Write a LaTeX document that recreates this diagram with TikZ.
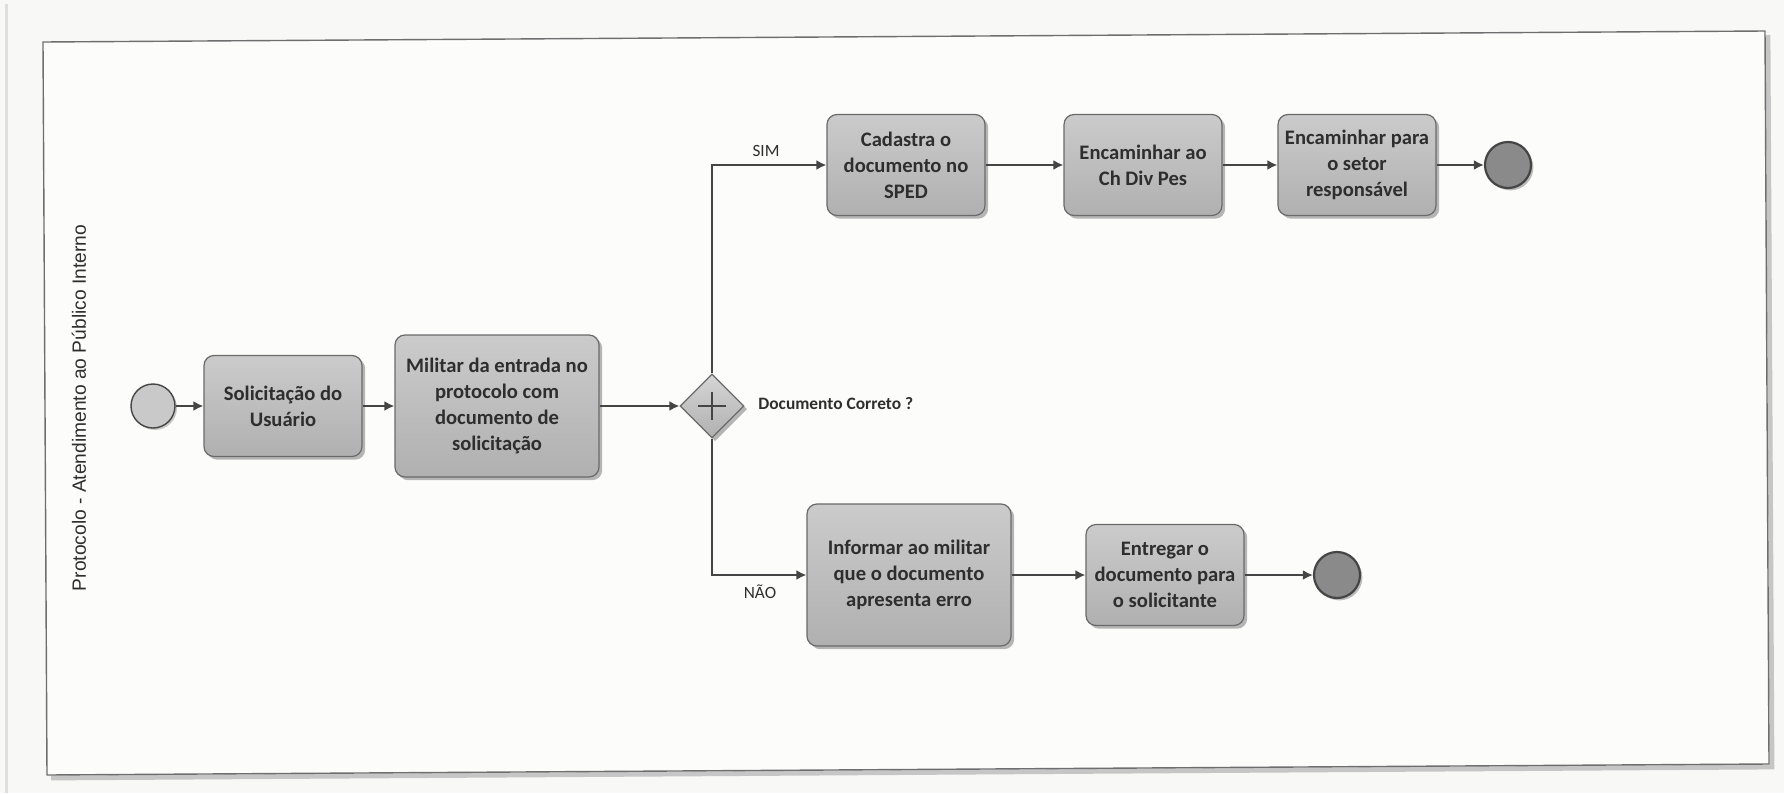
\documentclass[tikz,border=0pt]{standalone}
\usepackage{fontspec}
\setmainfont{Carlito}
\newfontfamily\lanefont{Liberation Sans}
\usetikzlibrary{arrows.meta,shapes.geometric,shadows}

\definecolor{paper}{HTML}{F8F8F6}
\definecolor{sheet}{HTML}{FCFCFB}
\definecolor{framec}{HTML}{6E6E6E}
\definecolor{taskedge}{HTML}{6A6A6A}
\definecolor{tasktop}{HTML}{CBCBCB}
\definecolor{taskbot}{HTML}{B0B0B0}
\definecolor{flow}{HTML}{454545}
\definecolor{inktext}{HTML}{2E2E2E}
\definecolor{startfill}{HTML}{C9C9C9}
\definecolor{endfill}{HTML}{8A8A8A}

\tikzset{
  task/.style={draw=taskedge, line width=0.6pt, rounded corners=5pt,
    top color=tasktop, bottom color=taskbot,
    minimum width=79pt, minimum height=50.5pt, inner sep=2pt, align=center,
    font=\bfseries\fontsize{10.3}{13}\selectfont, text=inktext,
    drop shadow={shadow xshift=1.6pt, shadow yshift=-1.6pt, fill=black, opacity=0.28}},
  bigtask/.style={task, minimum width=102pt, minimum height=71pt},
  flowarrow/.style={draw=flow, line width=1pt, -{Latex[length=5pt,width=5pt]}},
  startev/.style={circle, draw=flow, line width=0.7pt, fill=startfill,
    minimum size=22pt, inner sep=0pt,
    drop shadow={shadow xshift=1pt, shadow yshift=-1pt, fill=black, opacity=0.2}},
  endev/.style={circle, draw=flow, line width=1.1pt, fill=endfill,
    minimum size=23pt, inner sep=0pt,
    drop shadow={shadow xshift=1.2pt, shadow yshift=-1.2pt, fill=black, opacity=0.25}},
  gate/.style={diamond, draw=taskedge, line width=0.6pt, top color=tasktop!80!white,
    bottom color=taskbot, minimum width=32pt, minimum height=32pt, inner sep=0pt,
    drop shadow={shadow xshift=1.6pt, shadow yshift=-1.6pt, fill=black, opacity=0.28}},
  lbl/.style={font=\fontsize{8.6}{10}\selectfont, text=inktext, inner sep=1pt},
}

\begin{document}
\begin{tikzpicture}[x=0.5pt,y=-0.5pt]
  % page
  \fill[paper] (0,0) rectangle (1784,793);
  \useasboundingbox (0,0) rectangle (1784,793);
  \draw[gray!25, line width=1.5pt] (6,4) -- (6,793);

  % pool frame with its shadow
  \draw[gray!45, line width=2.4pt] (51,778) -- (1772,767) -- (1768,35);
  \filldraw[fill=sheet, draw=framec, line width=0.7pt]
    (43,42) -- (1765,31) -- (1769,764) -- (47,775) -- cycle;

  % lane title
  \node[rotate=90, font=\lanefont\fontsize{9.6}{11}\selectfont, text=inktext]
    (lane) at (79,408) {Protocolo - Atendimento ao Público Interno};

  % main path
  \node[startev] (start) at (153,406) {};
  \node[task] (sol) at (283,406) {Solicitação do\\Usuário};
  \node[bigtask] (mil) at (497,406) {Militar da entrada no\\protocolo com\\documento de\\solicitação};
  \node[gate] (gw) at (712,406) {};
  \draw[flow, line width=1pt] ([xshift=-7pt]gw.center) -- ([xshift=7pt]gw.center);
  \draw[flow, line width=1pt] ([yshift=-7pt]gw.center) -- ([yshift=7pt]gw.center);
  \node[lbl, font=\bfseries\fontsize{8.7}{10}\selectfont, anchor=west] (question) at (756,404) {Documento Correto ?};

  % SIM branch
  \node[task] (cad) at (906,165) {Cadastra o\\documento no\\SPED};
  \node[task] (enc1) at (1143,165) {Encaminhar ao\\Ch Div Pes};
  \node[task] (enc2) at (1357,165) {Encaminhar para\\o setor\\responsável};
  \node[endev] (end1) at (1508,165) {};

  % NAO branch
  \node[bigtask] (inf) at (909,575) {Informar ao militar\\que o documento\\apresenta erro};
  \node[task] (ent) at (1165,575) {Entregar o\\documento para\\o solicitante};
  \node[endev] (end2) at (1337,575) {};

  % branch labels
  \node[lbl] (sim) at (766,151) {SIM};
  \node[lbl] (nao) at (760,592) {NÃO};

  % sequence flows
  \draw[flowarrow] (start) -- (sol);
  \draw[flowarrow] (sol) -- (mil);
  \draw[flowarrow] (mil) -- (gw);
  \draw[flowarrow] (gw.north) |- (cad.west);
  \draw[flowarrow] (cad) -- (enc1);
  \draw[flowarrow] (enc1) -- (enc2);
  \draw[flowarrow] (enc2) -- (end1);
  \draw[flowarrow] (gw.south) |- (inf.west);
  \draw[flowarrow] (inf) -- (ent);
  \draw[flowarrow] (ent) -- (end2);
\end{tikzpicture}
\end{document}
